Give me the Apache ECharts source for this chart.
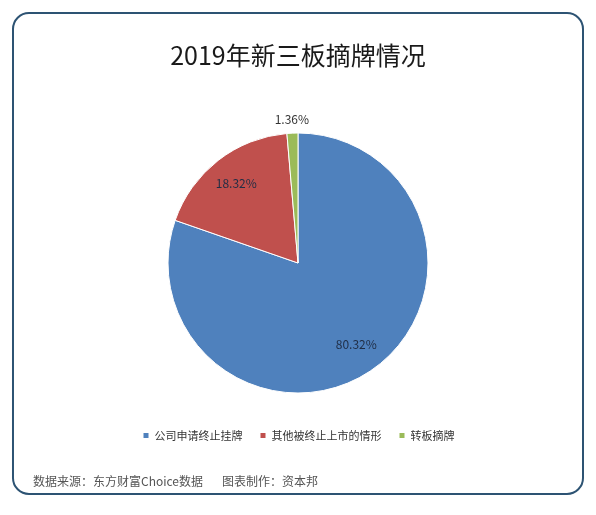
<!DOCTYPE html>
<html>
<head>
<meta charset="utf-8">
<script src="https://cdn.jsdelivr.net/npm/echarts@6/dist/echarts.min.js"></script>
<style>
  html, body { margin: 0; padding: 0; background: #fff; }
  #chart { width: 596px; height: 515px; }
</style>
</head>
<body>
<div id="chart"></div>
<script>
// 摘牌类型
var categories = ['公司申请终止挂牌', '其他被终止上市的情形', '转板摘牌']
// 占比 (%)
var shares = [80.32, 18.32, 1.36]
var colors = ['#4f81bd', '#c0504d', '#9bbb59']

var font = '"Noto Sans CJK SC", "Noto Sans", sans-serif'
var R = 130
var center = [298, 263]

var chart = echarts.init(document.getElementById('chart'))

var pieData = categories.map(function (name, i) {
  return { name: name, value: shares[i], itemStyle: { color: colors[i] } }
})

function fmt(p) {
  return p.value.toFixed(2) + '%'
}

var option = {
  backgroundColor: '#fff',
  animation: false,
  title: {
    text: '2019年新三板摘牌情况',
    left: 'center',
    top: 38,
    textStyle: { fontFamily: font, fontSize: 25, fontWeight: 'normal', color: '#1a1a1a' },
  },
  legend: {
    data: categories,
    bottom: 69,
    left: 'center',
    itemWidth: 7,
    itemHeight: 7,
    itemGap: 16,
    icon: 'rect',
    textStyle: { fontFamily: font, fontSize: 11, color: '#333' },
  },
  graphic: [
    {
      type: 'rect',
      shape: { x: 13, y: 13, width: 570, height: 481, r: 16 },
      style: { fill: 'none', stroke: '#2d5373', lineWidth: 2 },
      silent: true,
    },
    {
      type: 'text',
      left: 33,
      top: 475,
      style: { text: '数据来源：东方财富Choice数据', fill: '#555', font: '12px ' + font },
    },
    {
      type: 'text',
      left: 222,
      top: 475,
      style: { text: '图表制作：资本邦', fill: '#555', font: '12px ' + font },
    },
  ],
  series: [
    {
      // 饼图本体
      type: 'pie',
      center: center,
      radius: [0, R],
      startAngle: 90,
      clockwise: true,
      data: pieData,
      label: { show: false },
      labelLine: { show: false },
      itemStyle: { borderColor: '#fff', borderWidth: 1 },
      silent: true,
    },
    {
      // 内部标签 (透明)
      type: 'pie',
      center: center,
      radius: [R * 0.5, R],
      startAngle: 90,
      data: pieData.map(function (d, i) {
        return { name: d.name, value: d.value, label: { show: i < 2 } }
      }),
      itemStyle: { color: 'rgba(0,0,0,0)' },
      label: {
        position: 'inside',
        formatter: fmt,
        fontFamily: font,
        fontSize: 12,
        color: '#1f2d45',
      },
      labelLine: { show: false },
      silent: true,
    },
    {
      // 外部标签 (透明)
      type: 'pie',
      center: center,
      radius: [R, R * 1.17],
      startAngle: 90,
      data: pieData.map(function (d, i) {
        return { name: d.name, value: d.value, label: { show: i === 2 } }
      }),
      itemStyle: { color: 'rgba(0,0,0,0)' },
      label: {
        position: 'inside',
        formatter: fmt,
        fontFamily: font,
        fontSize: 12,
        color: '#333',
      },
      labelLine: { show: false },
      silent: true,
    },
  ],
}

chart.setOption(option)
window.addEventListener('resize', function () {
  chart.resize()
})
</script>
</body>
</html>
